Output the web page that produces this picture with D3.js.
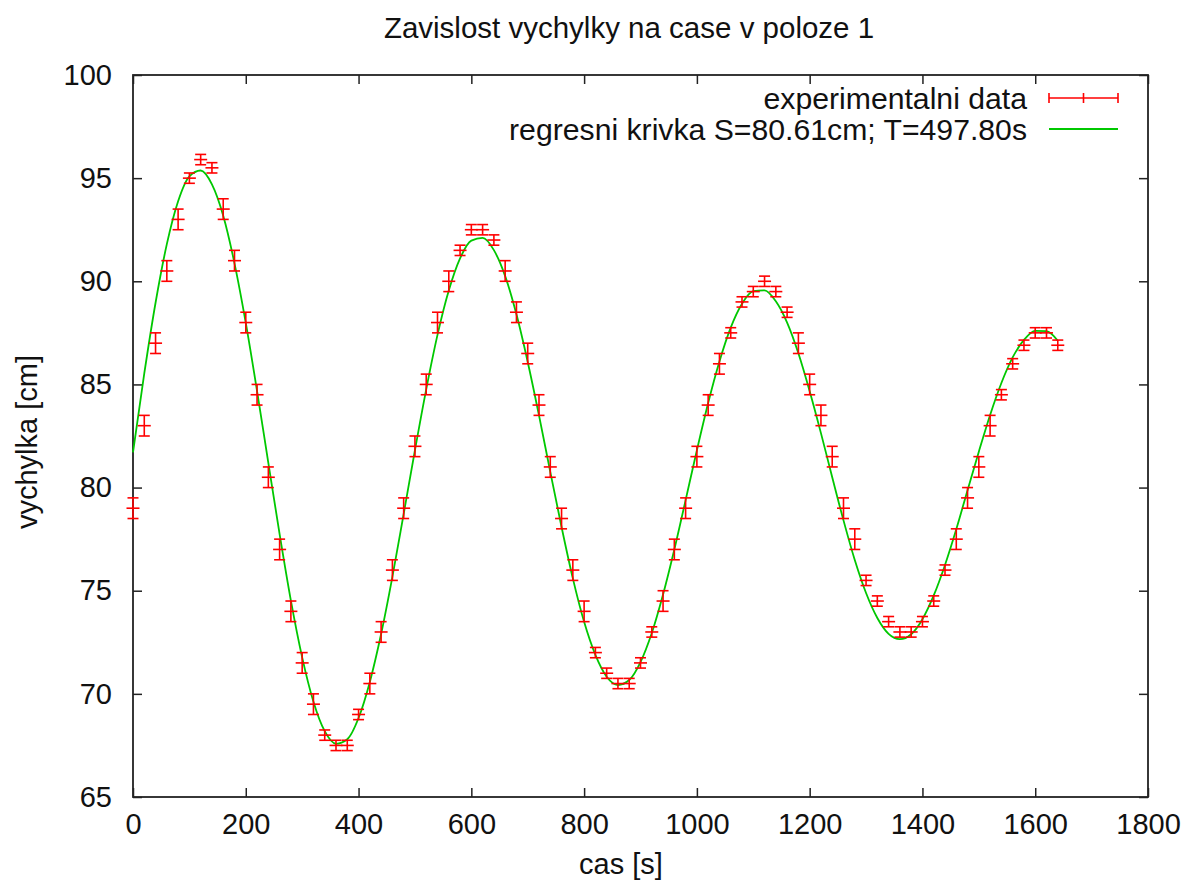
<!DOCTYPE html>
<html>
<head>
<meta charset="utf-8">
<script src="https://cdn.jsdelivr.net/npm/d3@7"></script>
<style>
  body { margin: 0; background: #fff; }
  text { font-family: "Liberation Sans", Arial, sans-serif; fill: #111; }
</style>
</head>
<body>
<svg width="1185" height="886"></svg>
<script>
// cas [s]
const casy = [
    0, 20, 40, 60, 80, 100, 120, 140, 160, 180,
    200, 220, 240, 260, 280, 300, 320, 340, 360, 380,
    400, 420, 440, 460, 480, 500, 520, 540, 560, 580,
    600, 620, 640, 660, 680, 700, 720, 740, 760, 780,
    800, 820, 840, 860, 880, 900, 920, 940, 960, 980,
    1000, 1020, 1040, 1060, 1080, 1100, 1120, 1140, 1160, 1180,
    1200, 1220, 1240, 1260, 1280, 1300, 1320, 1340, 1360, 1380,
    1400, 1420, 1440, 1460, 1480, 1500, 1520, 1540, 1560, 1580,
    1600, 1620, 1640
]

// namerena vychylka [cm]
const vychylka = [
    79, 83, 87, 90.5, 93, 95, 95.9, 95.5, 93.5, 91,
    88, 84.5, 80.5, 77, 74, 71.5, 69.5, 68, 67.5, 67.5,
    69, 70.5, 73, 76, 79, 82, 85, 88, 90, 91.5,
    92.5, 92.5, 92, 90.5, 88.5, 86.5, 84, 81, 78.5, 76,
    74, 72, 71, 70.5, 70.5, 71.5, 73, 74.5, 77, 79,
    81.5, 84, 86, 87.5, 89, 89.5, 90, 89.5, 88.5, 87,
    85, 83.5, 81.5, 79, 77.5, 75.5, 74.5, 73.5, 73, 73,
    73.5, 74.5, 76, 77.5, 79.5, 81, 83, 84.5, 86, 86.9,
    87.5, 87.5, 86.9
]

// chyba mereni [cm]
const chyba = [
    0.5, 0.5, 0.5, 0.5, 0.5, 0.25, 0.25, 0.25, 0.5, 0.5,
    0.5, 0.5, 0.5, 0.5, 0.5, 0.5, 0.5, 0.25, 0.25, 0.25,
    0.25, 0.5, 0.5, 0.5, 0.5, 0.5, 0.5, 0.5, 0.5, 0.25,
    0.25, 0.25, 0.25, 0.5, 0.5, 0.5, 0.5, 0.5, 0.5, 0.5,
    0.5, 0.25, 0.25, 0.25, 0.25, 0.25, 0.25, 0.5, 0.5, 0.5,
    0.5, 0.5, 0.5, 0.25, 0.25, 0.25, 0.25, 0.25, 0.25, 0.5,
    0.5, 0.5, 0.5, 0.5, 0.5, 0.25, 0.25, 0.25, 0.25, 0.25,
    0.25, 0.25, 0.25, 0.5, 0.5, 0.5, 0.5, 0.25, 0.25, 0.25,
    0.25, 0.25, 0.25
]

// regresni krivka, odectena z obrazku ve stejnych casech
const regrese = [
    81.71, 85.53, 88.96, 91.80, 93.88, 95.09, 95.37, 94.70, 93.18, 90.87,
    87.98, 84.68, 81.20, 77.74, 74.52, 71.77, 69.62, 68.19, 67.58, 67.80,
    68.83, 70.58, 72.90, 75.67, 78.72, 81.81, 84.76, 87.40, 89.55, 91.11,
    91.97, 92.10, 91.51, 90.25, 88.40, 86.09, 83.50, 80.76, 78.09, 75.60,
    73.49, 71.89, 70.83, 70.43, 70.67, 71.54, 72.95, 74.82, 77.00, 79.39,
    81.81, 84.10, 86.11, 87.75, 88.91, 89.52, 89.56, 89.03, 88.00, 86.51,
    84.67, 82.64, 80.50, 78.41, 76.49, 74.89, 73.68, 72.91, 72.65, 72.89,
    73.62, 74.77, 76.25, 77.98, 79.87, 81.74, 83.52, 85.07, 86.31, 87.16,
    87.60, 87.58, 87.12
]

const xTicks = [0, 200, 400, 600, 800, 1000, 1200, 1400, 1600, 1800]
const yTicks = [65, 70, 75, 80, 85, 90, 95, 100]

const legendLabels = ['experimentalni data', 'regresni krivka S=80.61cm; T=497.80s']

const svg = d3.select('svg')
const w = +svg.attr('width'), h = +svg.attr('height')

const margin = { top: 75, right: 37, bottom: 89, left: 133 }
const fontSize = 29

const red = '#ff0000', green = '#00c800', axisColor = '#222'

const x = d3.scaleLinear()
    .domain([0, 1800])
    .range([margin.left, w - margin.right])

const y = d3.scaleLinear()
    .domain([65, 100])
    .range([h - margin.bottom, margin.top])

svg.append('rect')
    .attr('width', w)
    .attr('height', h)
    .attr('fill', '#fff')

const styleAxis = g => {
    g.select('.domain').remove()
    g.selectAll('.tick line')
        .attr('stroke', axisColor)
        .attr('stroke-width', 1.5)
    g.selectAll('.tick text')
        .attr('font-family', '"Liberation Sans", Arial, sans-serif')
        .attr('font-size', fontSize)
        .attr('fill', '#111')
}

// spodni a leva osa s popisky, ticky dovnitr
svg.append('g')
    .attr('transform', `translate(0,${y(65)})`)
    .call(d3.axisBottom(x).tickValues(xTicks).tickFormat(d3.format('d'))
        .tickSizeInner(-9).tickSizeOuter(0).tickPadding(16))
    .call(styleAxis)

svg.append('g')
    .attr('transform', `translate(${x(0)},0)`)
    .call(d3.axisLeft(y).tickValues(yTicks).tickFormat(d3.format('d'))
        .tickSizeInner(-9).tickSizeOuter(0).tickPadding(21))
    .call(styleAxis)

// zrcadlove ticky nahore a vpravo
svg.append('g')
    .attr('transform', `translate(0,${y(100)})`)
    .call(d3.axisTop(x).tickValues(xTicks).tickSizeInner(-9).tickSizeOuter(0).tickFormat(''))
    .call(styleAxis)

svg.append('g')
    .attr('transform', `translate(${x(1800)},0)`)
    .call(d3.axisRight(y).tickValues(yTicks).tickSizeInner(-9).tickSizeOuter(0).tickFormat(''))
    .call(styleAxis)

svg.append('rect')
    .attr('x', x(0))
    .attr('y', y(100))
    .attr('width', x(1800) - x(0))
    .attr('height', y(65) - y(100))
    .attr('fill', 'none')
    .attr('stroke', axisColor)
    .attr('stroke-width', 1.8)

// regresni krivka
const line = d3.line()
    .x((d, i) => x(casy[i]))
    .y(d => y(d))
    .curve(d3.curveMonotoneX)

svg.append('path')
    .datum(regrese)
    .attr('d', line)
    .attr('fill', 'none')
    .attr('stroke', green)
    .attr('stroke-width', 1.8)

// chybove usecky
const body = casy.map((t, i) => ({ t, v: vychylka[i], e: chyba[i] }))
const cap = 5.5

const bars = svg.append('g')
    .attr('stroke', red)
    .attr('stroke-width', 1.6)
    .selectAll('g')
    .data(body)
    .enter()
    .append('g')

bars.append('line')
    .attr('x1', d => x(d.t)).attr('x2', d => x(d.t))
    .attr('y1', d => y(d.v - d.e)).attr('y2', d => y(d.v + d.e))

bars.append('line')
    .attr('x1', d => x(d.t) - cap).attr('x2', d => x(d.t) + cap)
    .attr('y1', d => y(d.v - d.e)).attr('y2', d => y(d.v - d.e))

bars.append('line')
    .attr('x1', d => x(d.t) - cap).attr('x2', d => x(d.t) + cap)
    .attr('y1', d => y(d.v + d.e)).attr('y2', d => y(d.v + d.e))

bars.append('line')
    .attr('x1', d => x(d.t) - cap - 1).attr('x2', d => x(d.t) + cap + 1)
    .attr('y1', d => y(d.v)).attr('y2', d => y(d.v))

// titulek a popisky os
svg.append('text')
    .attr('x', 629)
    .attr('y', 38)
    .attr('text-anchor', 'middle')
    .attr('font-size', 29.5)
    .text('Zavislost vychylky na case v poloze 1')

svg.append('text')
    .attr('x', 621)
    .attr('y', 874)
    .attr('text-anchor', 'middle')
    .attr('font-size', fontSize)
    .text('cas [s]')

svg.append('text')
    .attr('transform', `translate(37,${(y(65) + y(100)) / 2 + 6}) rotate(-90)`)
    .attr('text-anchor', 'middle')
    .attr('font-size', fontSize)
    .text('vychylka [cm]')

// legenda
const legend = svg.append('g')
const lx1 = 1049, lx2 = 1118, textX = 1027
const rowY = [98, 129]

legend.selectAll('text')
    .data(legendLabels)
    .enter()
    .append('text')
    .attr('x', textX)
    .attr('y', (d, i) => rowY[i])
    .attr('dy', '0.35em')
    .attr('text-anchor', 'end')
    .attr('font-size', 30.2)
    .text(d => d)

const sample = legend.append('g')
    .attr('stroke', red)
    .attr('stroke-width', 1.6)

sample.append('line')
    .attr('x1', lx1).attr('x2', lx2)
    .attr('y1', rowY[0]).attr('y2', rowY[0])

;[lx1, (lx1 + lx2) / 2, lx2].forEach(cx => {
    sample.append('line')
        .attr('x1', cx).attr('x2', cx)
        .attr('y1', rowY[0] - 5).attr('y2', rowY[0] + 5)
})

legend.append('line')
    .attr('x1', lx1).attr('x2', lx2)
    .attr('y1', rowY[1]).attr('y2', rowY[1])
    .attr('stroke', green)
    .attr('stroke-width', 1.8)
</script>
</body>
</html>
